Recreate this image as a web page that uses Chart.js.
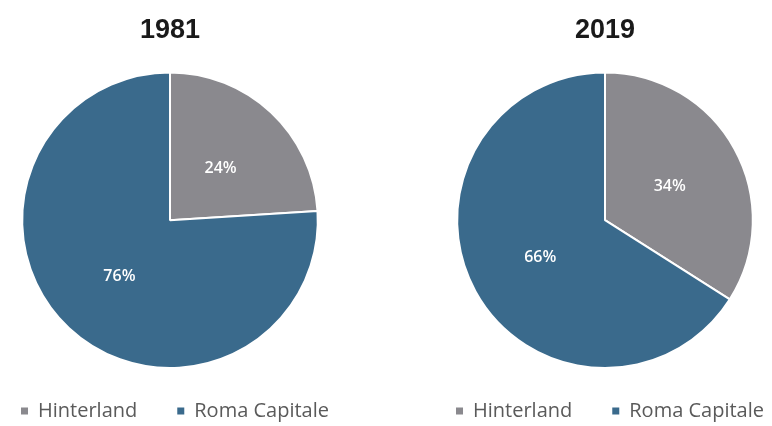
<!DOCTYPE html>
<html>
<head>
<meta charset="utf-8">
<script src="https://cdn.jsdelivr.net/npm/chart.js@4/dist/chart.umd.min.js"></script>
<style>
  html, body { margin: 0; padding: 0; background: #ffffff; }
  body { width: 772px; height: 426px; position: relative; overflow: hidden; }
  .pie { position: absolute; top: 0; height: 426px; }
  #left { left: 0; width: 340px; }
  #right { left: 438px; width: 334px; }
</style>
</head>
<body>
<div class="pie" id="left"><canvas id="c1981"></canvas></div>
<div class="pie" id="right"><canvas id="c2019"></canvas></div>
<script>
// Share of population: hinterland vs. city of Rome
const categories = ['Hinterland', 'Roma Capitale'];
const years = ['1981', '2019'];
const values1981 = [24, 76];
const values2019 = [34, 66];
const sliceColors = ['#8a898e', '#3a6a8c'];

// Writes each slice's percentage at the middle of the slice
const sliceLabels = {
  id: 'sliceLabels',
  afterDatasetsDraw(chart) {
    const ctx = chart.ctx;
    const ds = chart.data.datasets[0];
    chart.getDatasetMeta(0).data.forEach((arc, i) => {
      const p = arc.tooltipPosition();
      ctx.save();
      ctx.fillStyle = '#ffffff';
      ctx.font = '600 16px "Open Sans", sans-serif';
      ctx.textAlign = 'center';
      ctx.textBaseline = 'middle';
      ctx.fillText(ds.data[i] + '%', p.x, p.y + 2);
      ctx.restore();
    });
  }
};

// Single-row legend under the pie: small square, label, wide gap
const rowLegend = {
  id: 'rowLegend',
  afterDraw(chart, args, opts) {
    const ctx = chart.ctx;
    const labels = chart.data.labels;
    const colors = chart.data.datasets[0].backgroundColor;
    const box = 7, boxGap = 10, itemGap = 40;
    ctx.save();
    ctx.font = '20px "Open Sans", sans-serif';
    ctx.textBaseline = 'middle';
    ctx.textAlign = 'left';
    const widths = labels.map(t => box + boxGap + ctx.measureText(t).width);
    const total = widths.reduce((a, b) => a + b, 0) + itemGap * (labels.length - 1);
    const cx = (chart.chartArea.left + chart.chartArea.right) / 2 + (opts.shift || 0);
    const y = chart.height - 15;
    let x = cx - total / 2;
    labels.forEach((t, i) => {
      ctx.fillStyle = colors[i];
      ctx.fillRect(x, y - box / 2, box, box);
      ctx.fillStyle = '#5a5a5a';
      ctx.fillText(t, x + box + boxGap, y);
      x += widths[i] + itemGap;
    });
    ctx.restore();
  }
};

function makePie(canvasId, title, values) {
  return new Chart(document.getElementById(canvasId), {
    type: 'pie',
    data: {
      labels: categories,
      datasets: [{
        data: values,
        backgroundColor: sliceColors,
        borderColor: '#ffffff',
        borderWidth: 2
      }]
    },
    options: {
      responsive: true,
      maintainAspectRatio: false,
      animation: false,
      events: [],
      layout: { padding: { bottom: 57 } },
      plugins: {
        title: {
          display: true,
          text: title,
          color: '#1a1a1a',
          font: { family: '"Liberation Sans", Arial, sans-serif', size: 27, weight: 'bold' },
          padding: { top: 14, bottom: 25 }
        },
        legend: { display: false },
        tooltip: { enabled: false },
        rowLegend: { shift: 5 }
      }
    },
    plugins: [sliceLabels, rowLegend]
  });
}

makePie('c1981', years[0], values1981);
makePie('c2019', years[1], values2019);
</script>
</body>
</html>
